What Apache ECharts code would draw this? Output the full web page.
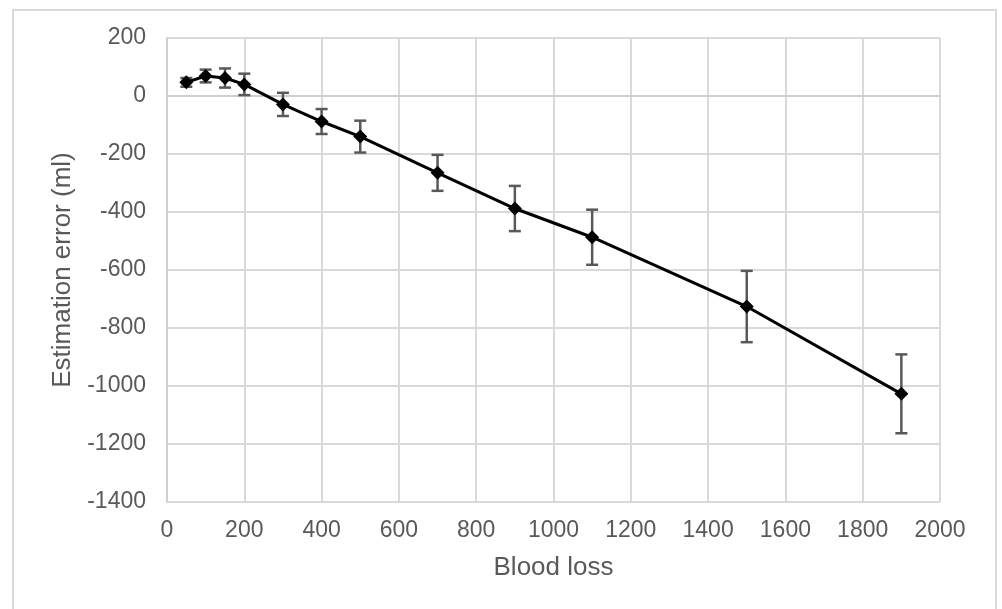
<!DOCTYPE html>
<html>
<head>
<meta charset="utf-8">
<script src="https://cdn.jsdelivr.net/npm/echarts@6/dist/echarts.min.js"></script>
<style>
  html, body { margin: 0; padding: 0; background: #fff; }
  #chart { width: 1002px; height: 609px; }
</style>
</head>
<body>
<div id="chart"></div>
<script>
// blood loss (ml) and mean estimation error with +/- error
const bloodLoss = [50, 100, 150, 200, 300, 400, 500, 700, 900, 1100, 1500, 1900]
const meanError = [47, 69, 62, 40, -29, -88, -140, -265, -388, -487, -726, -1027]
const errHalf = [15, 22, 33, 37, 40, 43, 55, 62, 78, 95, 123, 136]

const textColor = '#595959'
const gridColor = '#d9d9d9'
const font = 'Liberation Sans, Arial, sans-serif'

let chart = echarts.init(document.getElementById('chart'), null, { renderer: 'canvas' })

let lineData = bloodLoss.map((x, i) => [x, meanError[i]])
let barData = bloodLoss.map((x, i) => [x, meanError[i] - errHalf[i], meanError[i] + errHalf[i]])

chart.setOption({
  backgroundColor: '#fff',
  animation: false,
  graphic: [
    {
      type: 'rect',
      shape: { x: 13, y: 10, width: 983, height: 640 },
      style: { fill: 'none', stroke: gridColor, lineWidth: 2 },
      silent: true,
    },
  ],
  grid: { left: 167, right: 62, top: 38, bottom: 107 },
  xAxis: {
    type: 'value',
    min: 0,
    max: 2000,
    interval: 200,
    name: 'Blood loss',
    nameLocation: 'middle',
    nameGap: 53,
    nameTextStyle: { color: textColor, fontSize: 26, fontFamily: font },
    axisLine: { show: true, lineStyle: { color: '#cfcfcf', width: 2 } },
    axisTick: { show: false },
    axisLabel: { color: textColor, fontSize: 23, fontFamily: font, margin: 17, formatter: (v) => String(v) },
    splitLine: { show: true, lineStyle: { color: gridColor, width: 2 } },
  },
  yAxis: {
    type: 'value',
    min: -1400,
    max: 200,
    interval: 200,
    name: 'Estimation error (ml)',
    nameLocation: 'middle',
    nameGap: 89,
    nameTextStyle: { color: textColor, fontSize: 26, fontFamily: font },
    axisLine: { show: true, onZero: false, lineStyle: { color: '#cfcfcf', width: 2 } },
    axisTick: { show: false },
    axisLabel: { color: textColor, fontSize: 23, fontFamily: font, margin: 21, formatter: (v) => String(v) },
    splitLine: { show: true, lineStyle: { color: gridColor, width: 2 } },
  },
  series: [
    {
      // error bars
      type: 'custom',
      data: barData,
      z: 3,
      renderItem: (params, api) => {
        let x = api.value(0)
        let lo = api.coord([x, api.value(1)])
        let hi = api.coord([x, api.value(2)])
        let cap = 6
        let style = { stroke: '#595959', lineWidth: 2.5, fill: 'none' }
        return {
          type: 'group',
          children: [
            { type: 'line', shape: { x1: lo[0], y1: lo[1], x2: hi[0], y2: hi[1] }, style },
            { type: 'line', shape: { x1: lo[0] - cap, y1: lo[1], x2: lo[0] + cap, y2: lo[1] }, style },
            { type: 'line', shape: { x1: hi[0] - cap, y1: hi[1], x2: hi[0] + cap, y2: hi[1] }, style },
          ],
        }
      },
    },
    {
      type: 'line',
      data: lineData,
      z: 4,
      symbol: 'diamond',
      symbolSize: 14,
      itemStyle: { color: '#000' },
      lineStyle: { color: '#000', width: 3 },
    },
  ],
})
</script>
</body>
</html>
